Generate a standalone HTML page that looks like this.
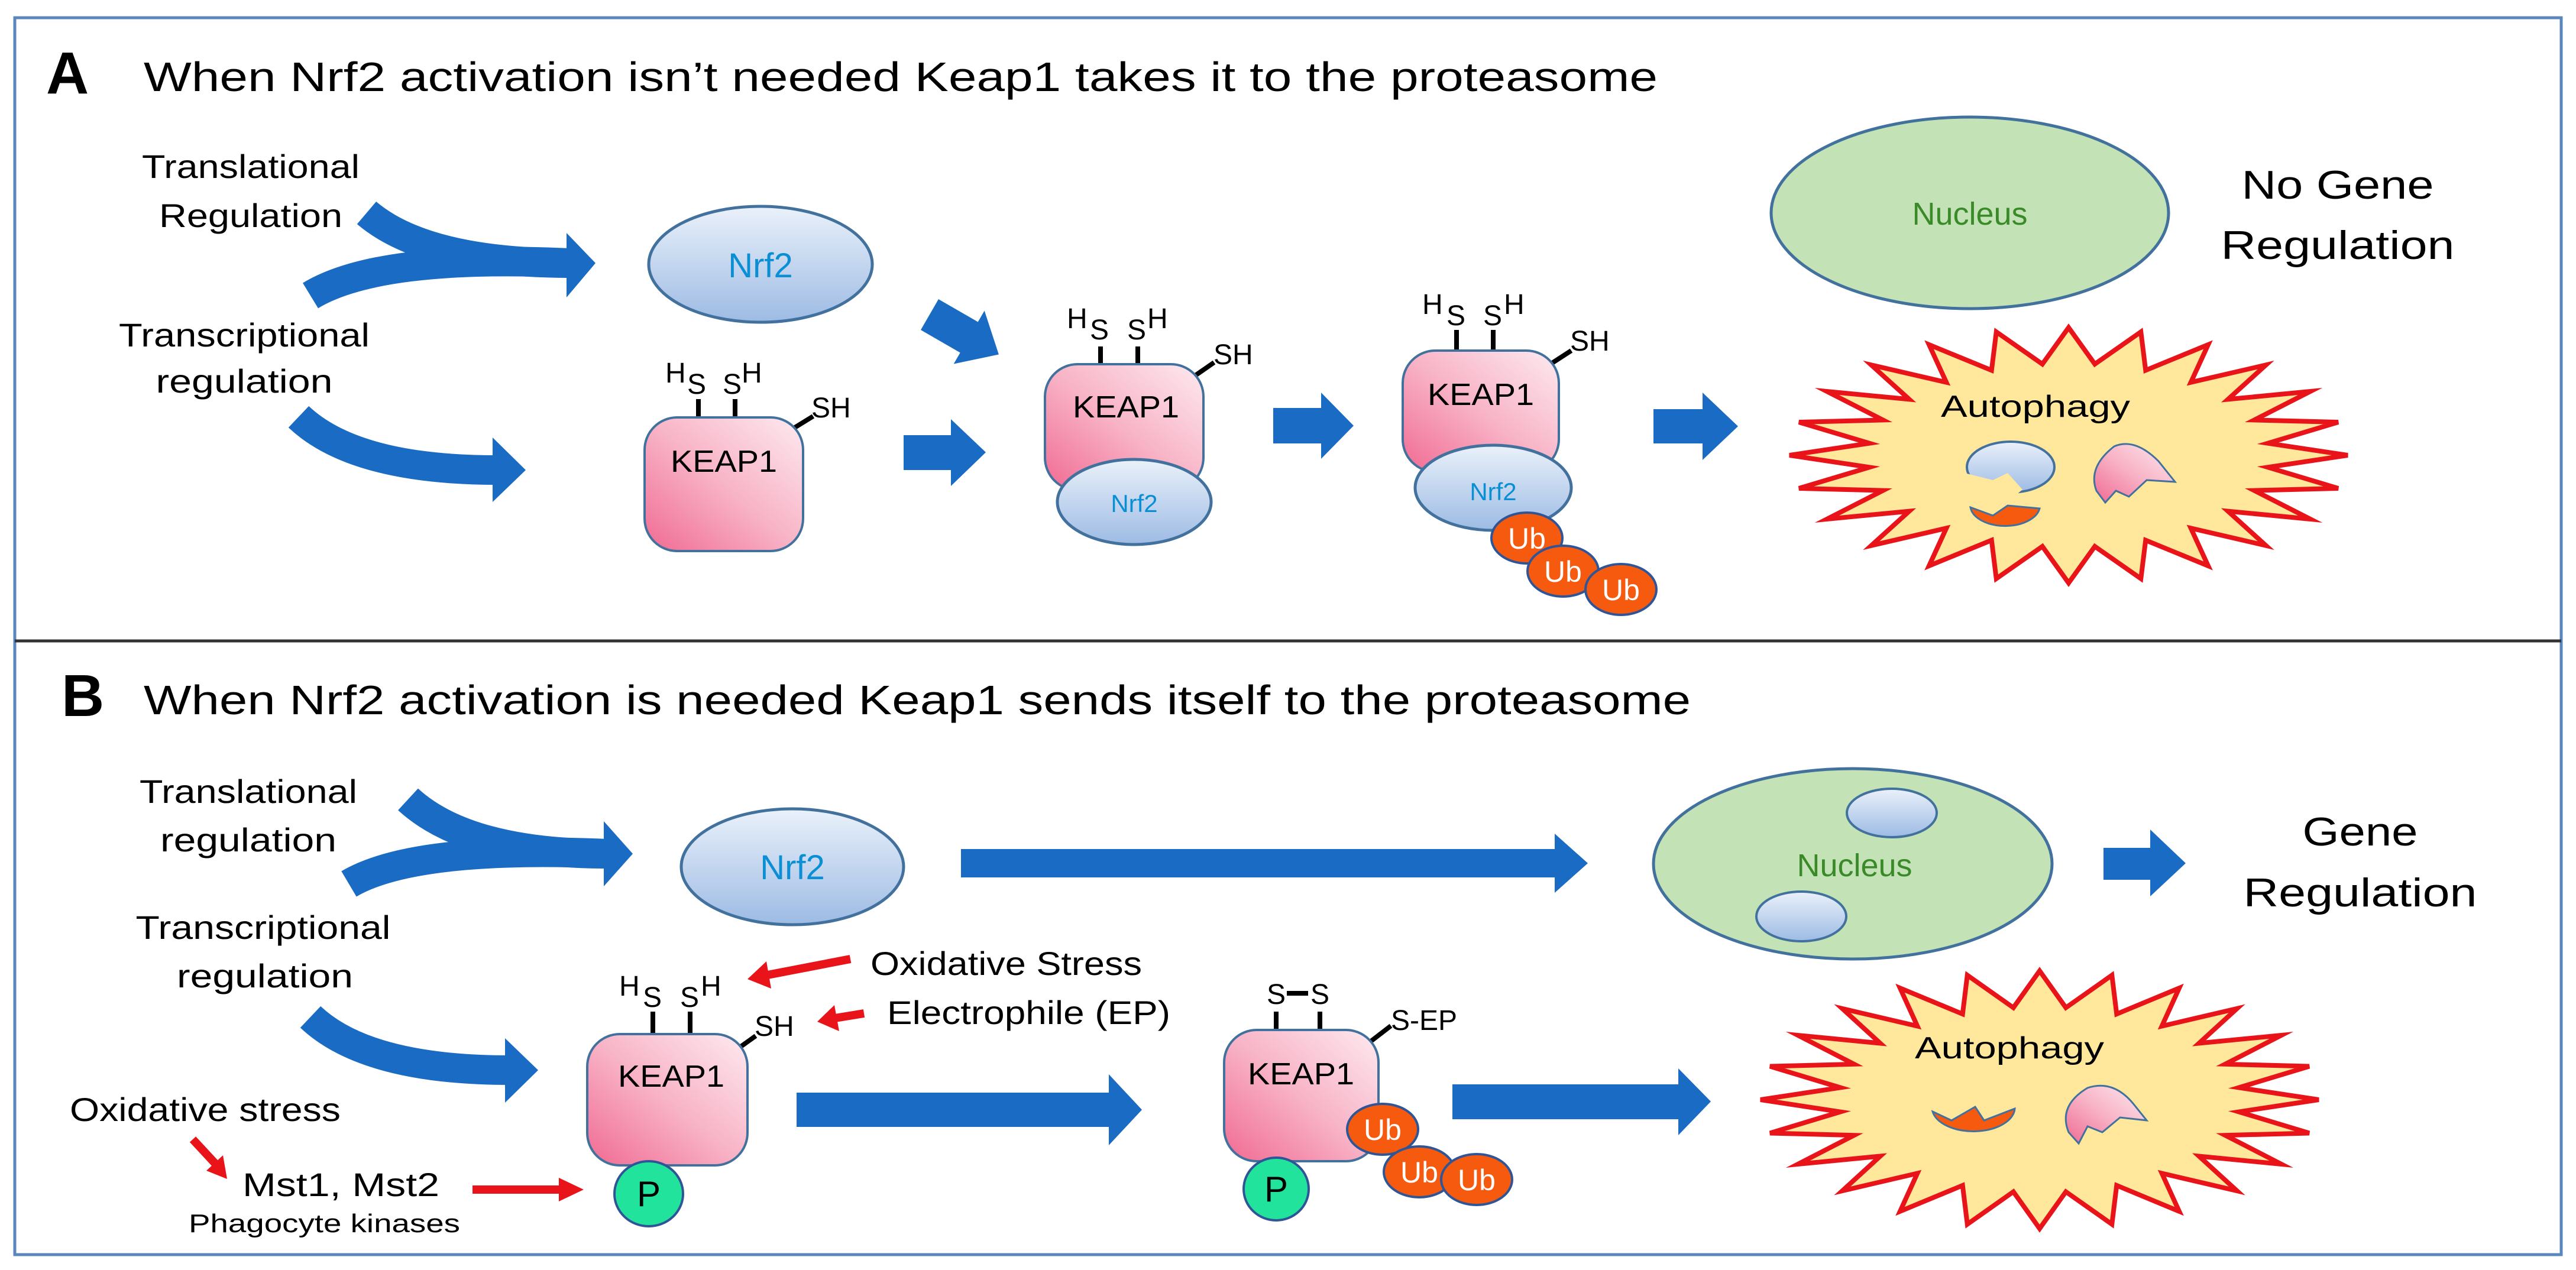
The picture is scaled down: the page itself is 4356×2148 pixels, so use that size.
<!DOCTYPE html>
<html><head><meta charset="utf-8"><style>
html,body{margin:0;padding:0;background:#fff;}
svg{display:block;}
text{font-family:"Liberation Sans",sans-serif;}
</style></head><body>
<svg width="4356" height="2148" viewBox="0 0 4356 2148" xmlns="http://www.w3.org/2000/svg">
<defs>
<linearGradient id="kg" x1="0" y1="1" x2="1" y2="0">
<stop offset="0" stop-color="#f06a92"/><stop offset="0.5" stop-color="#f8b4c7"/><stop offset="1" stop-color="#fdeaf0"/>
</linearGradient>
<linearGradient id="ng" x1="0" y1="0" x2="0" y2="1">
<stop offset="0" stop-color="#eaf1fa"/><stop offset="1" stop-color="#9dbbe4"/>
</linearGradient>
<polygon id="star" vector-effect="non-scaling-stroke" fill="#ffe89c" stroke="#e8141a" stroke-width="8" stroke-linejoin="miter" stroke-miterlimit="6" points="100,0 71.4,9.4 96.6,25.9 66.5,27.6 86.6,50 57.1,43.8 70.7,70.7 43.8,57.1 50,86.6 27.6,66.5 25.9,96.6 9.4,71.4 0,100 -9.4,71.4 -25.9,96.6 -27.6,66.5 -50,86.6 -43.8,57.1 -70.7,70.7 -57.1,43.8 -86.6,50 -66.5,27.6 -96.6,25.9 -71.4,9.4 -100,0 -71.4,-9.4 -96.6,-25.9 -66.5,-27.6 -86.6,-50 -57.1,-43.8 -70.7,-70.7 -43.8,-57.1 -50,-86.6 -27.6,-66.5 -25.9,-96.6 -9.4,-71.4 0,-100 9.4,-71.4 25.9,-96.6 27.6,-66.5 50,-86.6 43.8,-57.1 70.7,-70.7 57.1,-43.8 86.6,-50 66.5,-27.6 96.6,-25.9 71.4,-9.4"/>
</defs>

<rect x="25" y="30" width="4306" height="2092" fill="none" stroke="#5b85bd" stroke-width="5"/>
<line x1="25" y1="1084" x2="4331" y2="1084" stroke="#333" stroke-width="5"/>

<!-- ============ PANEL A ============ -->
<text x="78" y="158" font-size="100" font-weight="bold">A</text>
<text x="243" y="154" font-size="70" textLength="2560" lengthAdjust="spacingAndGlyphs">When Nrf2 activation isn’t needed Keap1 takes it to the proteasome</text>

<text x="424" y="301" font-size="56" text-anchor="middle" textLength="368" lengthAdjust="spacingAndGlyphs">Translational</text>
<text x="424" y="384" font-size="56" text-anchor="middle" textLength="310" lengthAdjust="spacingAndGlyphs">Regulation</text>
<text x="413" y="586" font-size="56" text-anchor="middle" textLength="424" lengthAdjust="spacingAndGlyphs">Transcriptional</text>
<text x="413" y="664" font-size="56" text-anchor="middle" textLength="299" lengthAdjust="spacingAndGlyphs">regulation</text>

<g fill="none" stroke="#1a6bc4" stroke-width="50">
<path d="M620,360 Q720,445 965,445"/>
<path d="M525,500 Q640,430 965,445"/>
<path d="M505,705 Q600,795 840,795"/>
</g>
<g fill="#1a6bc4">
<polygon points="958,394 1007,445 958,503"/>
<polygon points="833,740 889,795 833,849"/>
<polygon points="1528,736 1608,736 1608,709 1667,765 1608,822 1608,795 1528,795"/>
<polygon points="2153,690 2234,690 2234,664 2289,720 2234,776 2234,750 2153,750"/>
<polygon points="2796,692 2879,692 2879,664 2939,721 2879,778 2879,750 2796,750"/>
<g transform="translate(1572,532) rotate(30)"><polygon points="0,-30 77,-30 77,-52 135,0 77,52 77,30 0,30"/></g>
</g>

<ellipse cx="1286" cy="447" rx="189" ry="98" fill="url(#ng)" stroke="#41719c" stroke-width="5"/>
<text x="1286" y="469" font-size="58" fill="#0a8fd4" text-anchor="middle">Nrf2</text>

<g stroke="#000" stroke-width="8">
<line x1="1181" y1="675" x2="1181" y2="710"/><line x1="1243" y1="675" x2="1243" y2="710"/>
<line x1="1336" y1="728" x2="1375" y2="704"/>
</g>
<rect x="1090" y="706" width="268" height="226" rx="55" fill="url(#kg)" stroke="#41719c" stroke-width="4"/>
<text x="1224" y="798" font-size="52" text-anchor="middle" textLength="180" lengthAdjust="spacingAndGlyphs">KEAP1</text>
<g font-size="48">
<text x="1125" y="647">H</text><text x="1162" y="666">S</text><text x="1222" y="666">S</text><text x="1254" y="647">H</text>
<text x="1372" y="706">SH</text>
</g>

<g stroke="#000" stroke-width="8">
<line x1="1861" y1="586" x2="1861" y2="620"/><line x1="1924" y1="586" x2="1924" y2="620"/>
<line x1="2017" y1="638" x2="2053" y2="613"/>
</g>
<rect x="1767" y="616" width="268" height="213" rx="55" fill="url(#kg)" stroke="#41719c" stroke-width="4"/>
<text x="1904" y="706" font-size="52" text-anchor="middle" textLength="180" lengthAdjust="spacingAndGlyphs">KEAP1</text>
<ellipse cx="1918" cy="849" rx="130" ry="72" fill="url(#ng)" stroke="#41719c" stroke-width="5"/>
<text x="1918" y="866" font-size="42" fill="#0a8fd4" text-anchor="middle">Nrf2</text>
<g font-size="48">
<text x="1804" y="555">H</text><text x="1843" y="574">S</text><text x="1906" y="574">S</text><text x="1940" y="555">H</text>
<text x="2052" y="616">SH</text>
</g>

<g stroke="#000" stroke-width="8">
<line x1="2463" y1="558" x2="2463" y2="596"/><line x1="2525" y1="558" x2="2525" y2="596"/>
<line x1="2620" y1="617" x2="2657" y2="593"/>
</g>
<rect x="2372" y="593" width="264" height="205" rx="55" fill="url(#kg)" stroke="#41719c" stroke-width="4"/>
<text x="2504" y="685" font-size="52" text-anchor="middle" textLength="180" lengthAdjust="spacingAndGlyphs">KEAP1</text>
<ellipse cx="2525" cy="825" rx="132" ry="72" fill="url(#ng)" stroke="#41719c" stroke-width="5"/>
<text x="2525" y="846" font-size="42" fill="#0a8fd4" text-anchor="middle">Nrf2</text>
<g font-size="48">
<text x="2405" y="531">H</text><text x="2446" y="550">S</text><text x="2508" y="550">S</text><text x="2543" y="531">H</text>
<text x="2655" y="593">SH</text>
</g>
<g fill="#f55a0f" stroke="#2f5597" stroke-width="4">
<ellipse cx="2582" cy="910" rx="60" ry="43"/>
<ellipse cx="2643" cy="966" rx="60" ry="43"/>
<ellipse cx="2741" cy="997" rx="60" ry="43"/>
</g>
<g font-size="50" fill="#fff" text-anchor="middle">
<text x="2582" y="928">Ub</text><text x="2643" y="984">Ub</text><text x="2741" y="1015">Ub</text>
</g>

<ellipse cx="3331" cy="360" rx="336" ry="162" fill="#c3e2b6" stroke="#41719c" stroke-width="5"/>
<text x="3331" y="380" font-size="54" fill="#3a8a2a" text-anchor="middle">Nucleus</text>
<text x="3953" y="336" font-size="68" text-anchor="middle" textLength="325" lengthAdjust="spacingAndGlyphs">No Gene</text>
<text x="3953" y="438" font-size="68" text-anchor="middle" textLength="395" lengthAdjust="spacingAndGlyphs">Regulation</text>

<use href="#star" transform="translate(3498,770) scale(4.72,2.16)"/>
<text x="3442" y="705" font-size="52" text-anchor="middle" textLength="320" lengthAdjust="spacingAndGlyphs">Autophagy</text>
<ellipse cx="3400" cy="790" rx="74" ry="43" fill="url(#ng)" stroke="#41719c" stroke-width="4"/>
<polygon points="3322,800 3370,812 3395,800 3420,828 3400,845 3320,845" fill="#ffe89c"/>
<path d="M3332,858 L3370,872 L3395,855 L3449,860 A59,35 0 0 1 3332,858 Z" fill="#f55a0f" stroke="#41719c" stroke-width="3"/>
<path d="M3545,830 Q3530,790 3575,755 Q3610,740 3650,780 L3678,815 L3630,812 L3600,840 L3578,830 L3560,850 Z" fill="url(#kg)" stroke="#41719c" stroke-width="3"/>

<!-- ============ PANEL B ============ -->
<text x="104" y="1211" font-size="100" font-weight="bold">B</text>
<text x="243" y="1208" font-size="70" textLength="2616" lengthAdjust="spacingAndGlyphs">When Nrf2 activation is needed Keap1 sends itself to the proteasome</text>

<text x="420" y="1358" font-size="56" text-anchor="middle" textLength="368" lengthAdjust="spacingAndGlyphs">Translational</text>
<text x="420" y="1440" font-size="56" text-anchor="middle" textLength="298" lengthAdjust="spacingAndGlyphs">regulation</text>
<text x="445" y="1588" font-size="56" text-anchor="middle" textLength="431" lengthAdjust="spacingAndGlyphs">Transcriptional</text>
<text x="448" y="1670" font-size="56" text-anchor="middle" textLength="298" lengthAdjust="spacingAndGlyphs">regulation</text>

<g fill="none" stroke="#1a6bc4" stroke-width="50">
<path d="M690,1352 Q790,1444 1028,1444"/>
<path d="M590,1495 Q700,1430 1028,1444"/>
<path d="M525,1720 Q620,1810 862,1810"/>
</g>
<g fill="#1a6bc4">
<polygon points="1021,1389 1070,1444 1021,1499"/>
<polygon points="854,1756 910,1810 854,1865"/>
<polygon points="1625,1436 2629,1436 2629,1410 2685,1460 2629,1510 2629,1484 1625,1484"/>
<polygon points="1347,1848 1875,1848 1875,1817 1931,1877 1875,1937 1875,1906 1347,1906"/>
<polygon points="2456,1834 2838,1834 2838,1807 2893,1863 2838,1920 2838,1893 2456,1893"/>
<polygon points="3557,1434 3636,1434 3636,1403 3696,1460 3636,1516 3636,1488 3557,1488"/>
</g>

<ellipse cx="1340" cy="1466" rx="188" ry="98" fill="url(#ng)" stroke="#41719c" stroke-width="5"/>
<text x="1340" y="1487" font-size="58" fill="#0a8fd4" text-anchor="middle">Nrf2</text>

<g stroke="#000" stroke-width="8">
<line x1="1104" y1="1711" x2="1104" y2="1750"/><line x1="1167" y1="1711" x2="1167" y2="1750"/>
<line x1="1243" y1="1777" x2="1278" y2="1752"/>
</g>
<rect x="993" y="1749" width="271" height="222" rx="55" fill="url(#kg)" stroke="#41719c" stroke-width="4"/>
<text x="1135" y="1838" font-size="52" text-anchor="middle" textLength="180" lengthAdjust="spacingAndGlyphs">KEAP1</text>
<ellipse cx="1097" cy="2019" rx="58" ry="55" fill="#22e39c" stroke="#2f5597" stroke-width="4"/>
<text x="1097" y="2040" font-size="60" text-anchor="middle">P</text>
<g font-size="48">
<text x="1047" y="1684">H</text><text x="1087" y="1703">S</text><text x="1150" y="1703">S</text><text x="1185" y="1684">H</text>
<text x="1276" y="1752">SH</text>
</g>

<g stroke="#e8141a" stroke-width="14" fill="none">
<line x1="1438" y1="1622" x2="1298" y2="1649"/>
<line x1="1461" y1="1714" x2="1412" y2="1722"/>
<line x1="326" y1="1927" x2="364" y2="1968"/>
<line x1="799" y1="2012" x2="948" y2="2012"/>
</g>
<g fill="#e8141a">
<polygon points="1264,1656 1304,1672 1296,1626"/>
<polygon points="1382,1728 1419,1744 1411,1700"/>
<polygon points="384,1994 349,1980 377,1954"/>
<polygon points="945,1992 987,2012 945,2032"/>
</g>
<text x="1472" y="1649" font-size="56" textLength="459" lengthAdjust="spacingAndGlyphs">Oxidative Stress</text>
<text x="1500" y="1732" font-size="56" textLength="479" lengthAdjust="spacingAndGlyphs">Electrophile (EP)</text>
<text x="118" y="1896" font-size="56" textLength="458" lengthAdjust="spacingAndGlyphs">Oxidative stress</text>
<text x="410" y="2023" font-size="56" textLength="333" lengthAdjust="spacingAndGlyphs">Mst1, Mst2</text>
<text x="319" y="2084" font-size="44" textLength="459" lengthAdjust="spacingAndGlyphs">Phagocyte kinases</text>

<g stroke="#000" stroke-width="8">
<line x1="2158" y1="1711" x2="2158" y2="1745"/><line x1="2232" y1="1711" x2="2232" y2="1745"/>
<line x1="2176" y1="1680" x2="2212" y2="1680"/>
<line x1="2317" y1="1762" x2="2352" y2="1735"/>
</g>
<rect x="2070" y="1742" width="261" height="222" rx="55" fill="url(#kg)" stroke="#41719c" stroke-width="4"/>
<text x="2200" y="1834" font-size="52" text-anchor="middle" textLength="180" lengthAdjust="spacingAndGlyphs">KEAP1</text>
<g font-size="48">
<text x="2142" y="1698">S</text><text x="2216" y="1698">S</text>
<text x="2352" y="1742">S-EP</text>
</g>
<ellipse cx="2158" cy="2011" rx="55" ry="53" fill="#22e39c" stroke="#2f5597" stroke-width="4"/>
<text x="2158" y="2032" font-size="60" text-anchor="middle">P</text>
<g fill="#f55a0f" stroke="#2f5597" stroke-width="4">
<ellipse cx="2338" cy="1910" rx="60" ry="43"/>
<ellipse cx="2400" cy="1982" rx="60" ry="43"/>
<ellipse cx="2497" cy="1995" rx="60" ry="43"/>
</g>
<g font-size="50" fill="#fff" text-anchor="middle">
<text x="2338" y="1928">Ub</text><text x="2400" y="2000">Ub</text><text x="2497" y="2013">Ub</text>
</g>

<ellipse cx="3133" cy="1461" rx="337" ry="161" fill="#c3e2b6" stroke="#41719c" stroke-width="5"/>
<ellipse cx="3199" cy="1375" rx="76" ry="41" fill="url(#ng)" stroke="#41719c" stroke-width="4"/>
<ellipse cx="3046" cy="1550" rx="76" ry="42" fill="url(#ng)" stroke="#41719c" stroke-width="4"/>
<text x="3136" y="1482" font-size="54" fill="#3a8a2a" text-anchor="middle">Nucleus</text>
<text x="3991" y="1430" font-size="68" text-anchor="middle" textLength="195" lengthAdjust="spacingAndGlyphs">Gene</text>
<text x="3991" y="1533" font-size="68" text-anchor="middle" textLength="395" lengthAdjust="spacingAndGlyphs">Regulation</text>

<use href="#star" transform="translate(3449,1860) scale(4.72,2.18)"/>
<text x="3398" y="1790" font-size="52" text-anchor="middle" textLength="320" lengthAdjust="spacingAndGlyphs">Autophagy</text>
<path d="M3268,1880 L3300,1895 L3340,1872 L3355,1895 L3407,1875 A70,40 0 0 1 3268,1880 Z" fill="#f55a0f" stroke="#41719c" stroke-width="3"/>
<path d="M3498,1915 Q3480,1870 3530,1840 Q3575,1825 3610,1870 L3630,1895 L3585,1890 L3555,1915 L3530,1905 L3515,1934 Z" fill="url(#kg)" stroke="#41719c" stroke-width="3"/>
</svg>
</body></html>
